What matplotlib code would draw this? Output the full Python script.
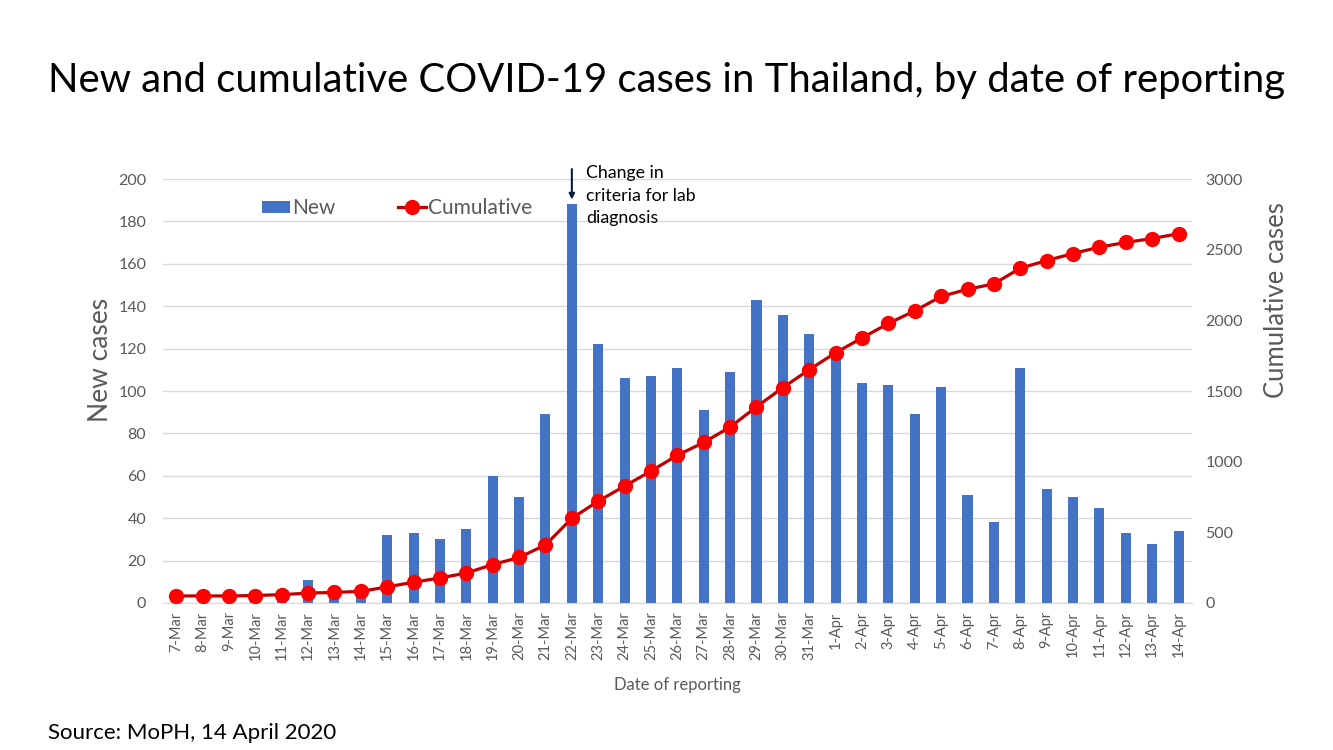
import matplotlib
matplotlib.use("Agg")
import matplotlib.pyplot as plt
from matplotlib.lines import Line2D
from matplotlib.patches import Patch

dates = ["7-Mar", "8-Mar", "9-Mar", "10-Mar", "11-Mar", "12-Mar", "13-Mar", "14-Mar",
         "15-Mar", "16-Mar", "17-Mar", "18-Mar", "19-Mar", "20-Mar", "21-Mar", "22-Mar",
         "23-Mar", "24-Mar", "25-Mar", "26-Mar", "27-Mar", "28-Mar", "29-Mar", "30-Mar",
         "31-Mar", "1-Apr", "2-Apr", "3-Apr", "4-Apr", "5-Apr", "6-Apr", "7-Apr",
         "8-Apr", "9-Apr", "10-Apr", "11-Apr", "12-Apr", "13-Apr", "14-Apr"]
new_cases = [2, 0, 0, 3, 6, 11, 5, 7, 32, 33, 30, 35, 60, 50, 89, 188,
             122, 106, 107, 111, 91, 109, 143, 136, 127, 120, 104, 103, 89, 102,
             51, 38, 111, 54, 50, 45, 33, 28, 34]
cumulative = [50, 50, 50, 53, 59, 70, 75, 82, 114, 147, 177, 212, 272, 322, 411, 599,
              721, 827, 934, 1045, 1136, 1245, 1388, 1524, 1651, 1771, 1875, 1978, 2067, 2169,
              2220, 2258, 2369, 2423, 2473, 2518, 2551, 2579, 2613]
left_ticks = list(range(0, 201, 20))
right_ticks = list(range(0, 3001, 500))

plt.rcParams['font.family'] = ['Lato', 'DejaVu Sans']
gray = '#595959'

fig = plt.figure(figsize=(13.33, 7.5), dpi=100)
ax = fig.add_axes([0.1223, 0.196, 0.7717, 0.5653])
x = list(range(len(dates)))
ax.bar(x, new_cases, width=0.38, color='#4472C4', zorder=2)
ax.set_xlim(-0.5, len(dates) - 0.5)
ax.set_ylim(0, 200)
ax.set_yticks(left_ticks)
ax.set_xticks(x)
ax.set_xticklabels(dates, rotation=90, fontsize=10.5, color=gray)
ax.tick_params(axis='y', labelsize=11.5, colors=gray, length=0, pad=12)
ax.tick_params(axis='x', length=0, pad=6)
ax.grid(axis='y', color='#D9D9D9', linewidth=1, zorder=0)
for s in ['top', 'right', 'left']:
    ax.spines[s].set_visible(False)
ax.spines['bottom'].set_color('#D9D9D9')
ax.set_xlabel('Date of reporting', fontsize=12, color=gray, labelpad=12)

ax2 = ax.twinx()
ax2.plot(x, cumulative, color='#C00000', linewidth=2.3, marker='o', markersize=10,
         markerfacecolor='#FF0000', markeredgecolor='#FF0000', zorder=3)
ax2.set_ylim(0, 3000)
ax2.set_yticks(right_ticks)
ax2.tick_params(axis='y', labelsize=11.5, colors=gray, length=0, pad=10)
for s in ['top', 'right', 'left', 'bottom']:
    ax2.spines[s].set_visible(False)

fig.text(100 / 1333, 1 - 360 / 750, 'New cases', rotation=90, fontsize=19, color=gray,
         ha='center', va='center')
fig.text(1277 / 1333, 1 - 300 / 750, 'Cumulative cases', rotation=90, fontsize=18.5,
         color=gray, ha='center', va='center')

handles = [Patch(facecolor='#4472C4'),
           Line2D([0], [0], color='#C00000', linewidth=2.3, marker='o', markersize=10,
                  markerfacecolor='#FF0000', markeredgecolor='#FF0000')]
fig.legend(handles, ['New', 'Cumulative'], loc='center left', bbox_to_anchor=(0.1825, 0.7225),
           ncol=2, frameon=False, fontsize=15, labelcolor=gray, columnspacing=3.0,
           handlelength=1.35, handletextpad=0.1, handleheight=0.5)

ax.annotate('', xy=(15, 189), xytext=(15, 206), annotation_clip=False,
            arrowprops=dict(arrowstyle='-|>', color='#0B1B3F', lw=1.5, mutation_scale=8))
ax.text(15.55, 206.5, 'Change in\ncriteria for lab\ndiagnosis', fontsize=12.8, color='black',
        va='top', ha='left', linespacing=1.5)

fig.text(0.5, 0.893, 'New and cumulative COVID-19 cases in Thailand, by date of reporting',
         ha='center', va='center', fontsize=28.8, color='black')
fig.text(0.036, 0.023, 'Source: MoPH, 14 April 2020', ha='left', va='center', fontsize=16,
         color='black')

fig.savefig('out.png', dpi=100)
